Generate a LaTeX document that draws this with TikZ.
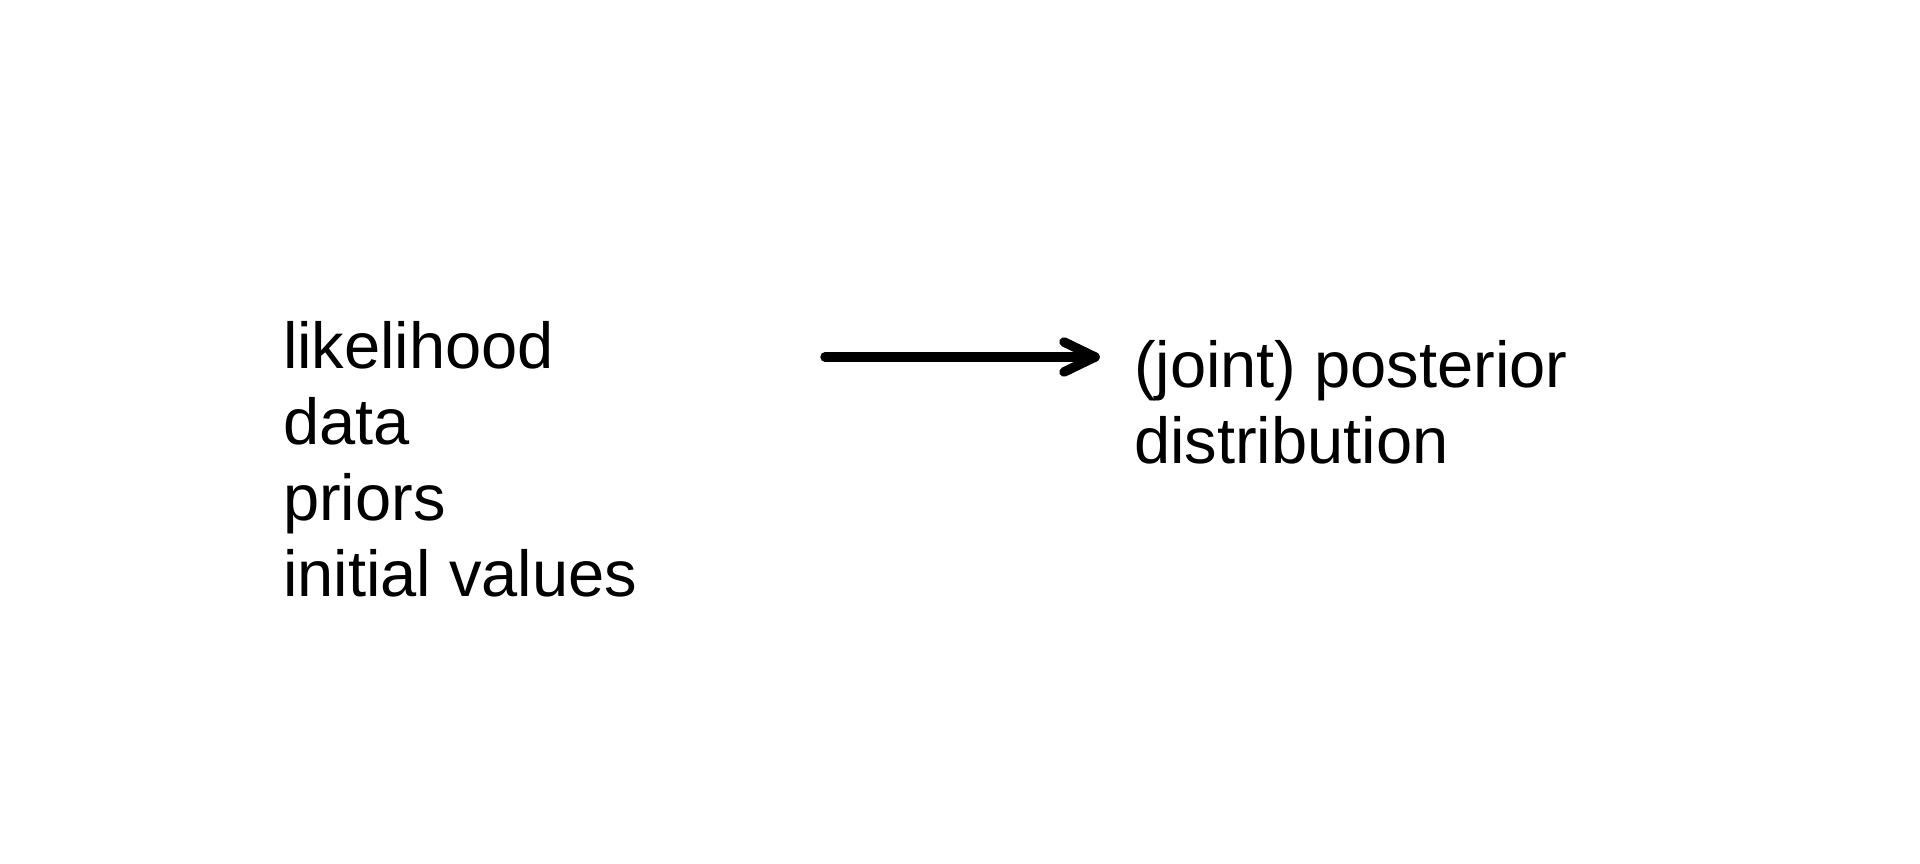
\documentclass[tikz,border=0pt]{standalone}
\usepackage{fontspec}
\setmainfont{Liberation Sans}
\begin{document}
\begin{tikzpicture}[x=1pt,y=-1pt,
  txt/.style={inner sep=0pt, outer sep=0pt, anchor=base west, font=\fontsize{65}{76}\selectfont},
  arrowline/.style={line width=9.5pt, line cap=round, line join=round, black}]
\useasboundingbox[fill=white] (0,0) rectangle (1920,864);
% left list
\node[txt] (l1) at (283,368) {likelihood};
\node[txt] (l2) at (283,444) {data};
\node[txt] (l3) at (283,520) {priors};
\node[txt] (l4) at (283,596) {initial values};
% right text
\node[txt] (r1) at (1134,387) {(joint) posterior};
\node[txt] (r2) at (1134,463) {distribution};
% arrow
\coordinate (as) at (825,357);
\coordinate (ae) at (1095,357);
\coordinate (ht) at (1064,342);
\coordinate (hb) at (1064,372);
\draw[arrowline] (as) -- (ae);
\draw[arrowline] (ht) -- (ae) -- (hb);
\end{tikzpicture}
\end{document}
